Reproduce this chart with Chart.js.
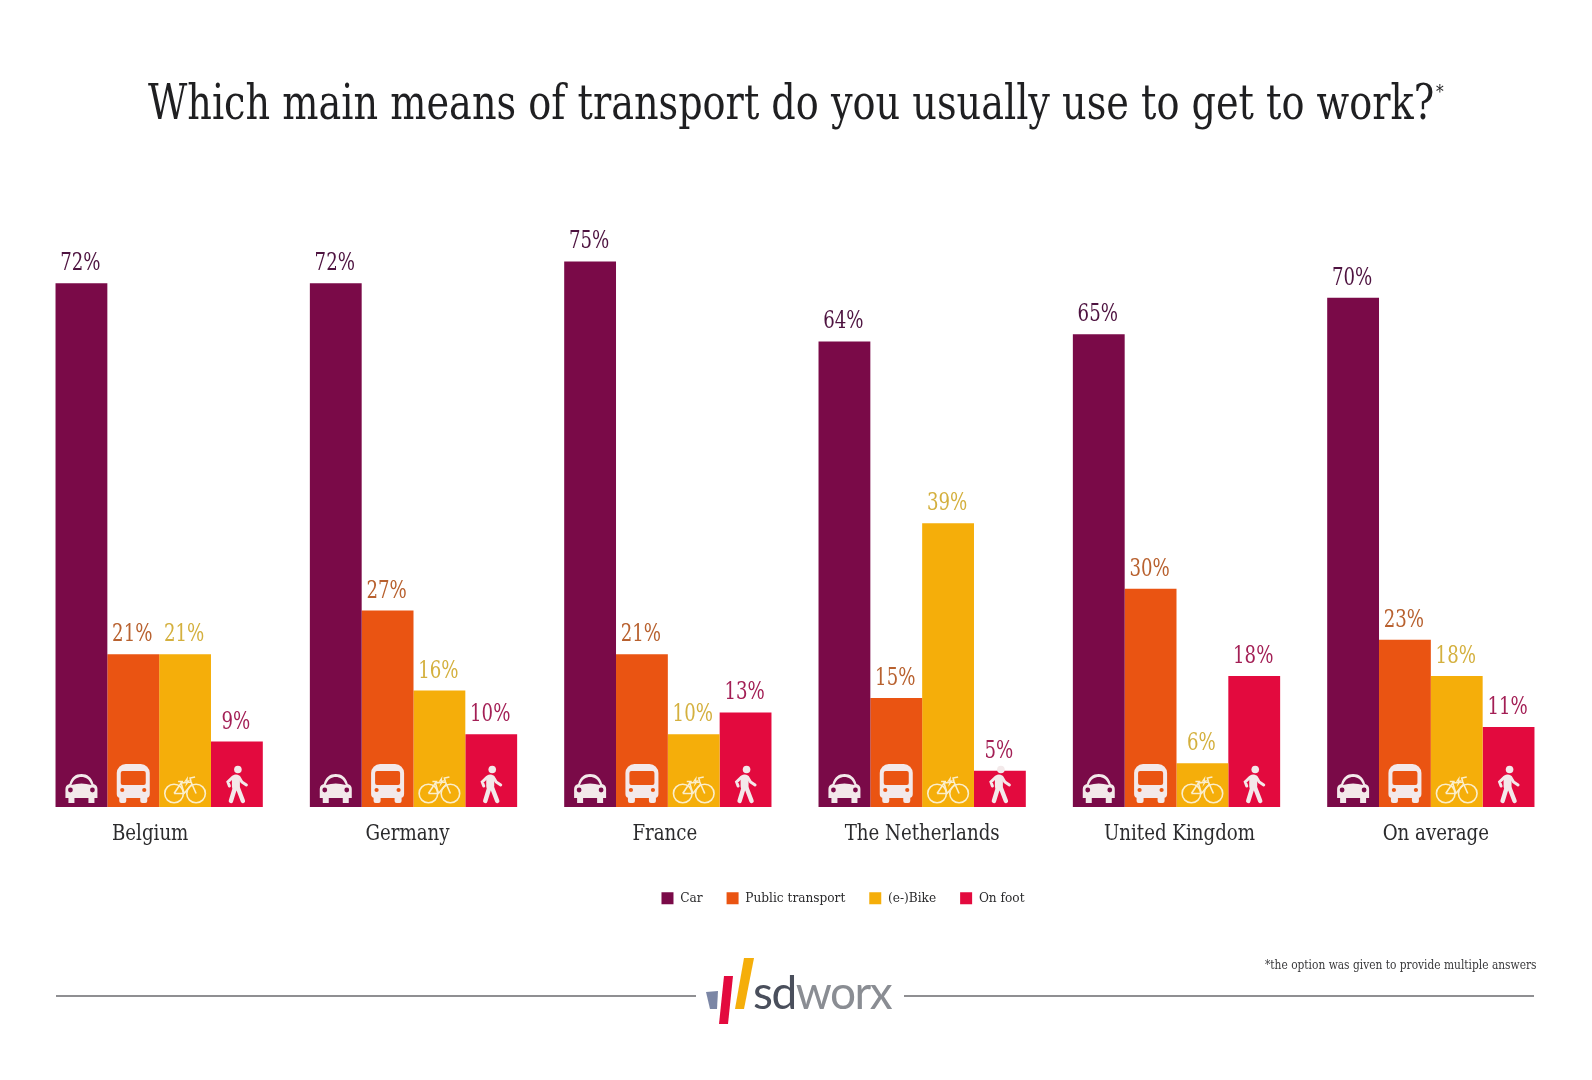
<!DOCTYPE html>
<html>
<head>
<meta charset="utf-8">
<style>
  html, body { margin: 0; background: #fff; }
  #wrap { position: relative; width: 1592px; height: 1080px; overflow: hidden; }
  canvas { position: absolute; left: 0; top: 0; }
  .rule { position: absolute; height: 2px; background: #8f8f92; top: 995px; }
  #note { position: absolute; left: 1265px; top: 957px; font: 13px "DejaVu Serif Condensed", serif; color: #3a3a3c; white-space: nowrap; transform: scaleX(0.91); transform-origin: left top; }
  #logo { position: absolute; left: 700px; top: 950px; }
</style>
<script src="https://cdn.jsdelivr.net/npm/chart.js@4/dist/chart.umd.min.js"></script>
</head>
<body>
<div id="wrap">
  <canvas id="chart" width="1592" height="1080"></canvas>
  <div class="rule" style="left:56px;width:640px"></div>
  <div class="rule" style="left:904px;width:630px"></div>
  <div id="note">*the option was given to provide multiple answers</div>
  <svg id="logo" width="204" height="80" viewBox="0 0 204 80">
    <polygon points="6,42 18,41 17,59 10,59" fill="#7b86a5"/>
    <polygon points="24,26 33,26 28,74 19,74" fill="#e30a3e"/>
    <polygon points="44,8 54,8 44,59 35,59" fill="#f5ae0a"/>
    <text x="53" y="59" font-family="Lato, sans-serif" font-size="46" fill="#4a4f5c" letter-spacing="-1.5">sd<tspan fill="#8a8d93">worx</tspan></text>
  </svg>
</div>
<script>
// Chart data
const countries = ['Belgium', 'Germany', 'France', 'The Netherlands', 'United Kingdom', 'On average'];
const car = [72, 72, 75, 64, 65, 70];
const publicTransport = [21, 27, 21, 15, 30, 23];
const bike = [21, 16, 10, 39, 6, 18];
const onFoot = [9, 10, 13, 5, 18, 11];

const FONT = '"DejaVu Serif Condensed", serif';
const labelColors = ['#4e1340', '#b8612f', '#d4b03e', '#a31f55'];
// country names sit a bit off the group centres in the original
const countryShift = [-9, -6, -3, 0, 3, 5];

// DejaVu is wider than the original slab face, so squeeze it horizontally
function squeezedText(c, text, x, y, size, squeeze, color, align) {
  c.save();
  c.translate(x, y);
  c.scale(squeeze, 1);
  c.font = size + 'px ' + FONT;
  c.fillStyle = color;
  c.textAlign = align || 'center';
  c.textBaseline = 'alphabetic';
  c.fillText(text, 0, 0);
  c.restore();
}

// icons: origin is the middle of the bar at its bottom edge
function drawCar(c, fill) {
  c.beginPath();
  c.moveTo(-16, -10); c.lineTo(-16, -18); c.quadraticCurveTo(-16, -22, -12, -23);
  c.bezierCurveTo(-10, -30, -6, -33, 0, -33); c.bezierCurveTo(6, -33, 10, -30, 12, -23);
  c.quadraticCurveTo(16, -22, 16, -18); c.lineTo(16, -9); c.lineTo(13, -9); c.lineTo(13, -4); c.lineTo(7, -4); c.lineTo(7, -9);
  c.lineTo(-7, -9); c.lineTo(-7, -4); c.lineTo(-13, -4); c.lineTo(-13, -9); c.lineTo(-16, -9);
  c.closePath(); c.fill();
  c.fillStyle = fill;
  c.beginPath();
  c.moveTo(-10, -22); c.bezierCurveTo(-8, -28, -4, -30, 0, -30); c.bezierCurveTo(4, -30, 8, -28, 10, -22);
  c.quadraticCurveTo(0, -25, -10, -22); c.fill();
  c.beginPath(); c.arc(-11, -17, 2.4, 0, Math.PI * 2); c.arc(11, -17, 2.4, 0, Math.PI * 2); c.fill();
}
function drawBus(c, fill) {
  c.beginPath();
  c.roundRect(-16.5, -43, 33, 34, [9, 9, 4, 4]); c.fill();
  c.beginPath(); c.roundRect(-14, -11, 7, 7, 2); c.roundRect(7, -11, 7, 7, 2); c.fill();
  c.fillStyle = fill;
  c.beginPath(); c.roundRect(-12.5, -36, 25, 14, 2); c.fill();
  c.beginPath(); c.arc(-11, -17, 2.1, 0, Math.PI * 2); c.arc(11, -17, 2.1, 0, Math.PI * 2); c.fill();
}
function drawBike(c) {
  c.lineWidth = 1.6;
  c.beginPath(); c.arc(-11, -13.5, 9.3, 0, Math.PI * 2); c.stroke();
  c.beginPath(); c.arc(11, -13.5, 9.3, 0, Math.PI * 2); c.stroke();
  c.beginPath();
  c.moveTo(-11, -13.5); c.lineTo(-4, -24); c.lineTo(6, -25); c.lineTo(11, -13.5);
  c.moveTo(-11, -13.5); c.lineTo(-1, -13.5); c.lineTo(7, -23);
  c.moveTo(-4, -24); c.lineTo(-1, -13.5);
  c.moveTo(6, -25); c.lineTo(5, -29); c.lineTo(10, -30);
  c.moveTo(-7, -25.5); c.lineTo(-2, -25.5);
  c.stroke();
  c.beginPath();
  c.moveTo(3, -31); c.lineTo(-1, -25); c.lineTo(1.5, -25.5); c.lineTo(0, -20);
  c.lineTo(5, -27); c.lineTo(2.5, -26.5); c.closePath(); c.fill();
}
function drawWalker(c) {
  c.beginPath(); c.arc(1, -37.5, 3.8, 0, Math.PI * 2); c.fill();
  c.lineCap = 'round';
  c.lineWidth = 8;
  c.beginPath(); c.moveTo(-1, -28.5); c.lineTo(-1, -21); c.stroke();
  c.lineWidth = 4.4;
  c.beginPath(); c.moveTo(-2, -19); c.lineTo(-6, -6); c.moveTo(1, -19); c.lineTo(6, -6); c.stroke();
  c.lineWidth = 3;
  c.beginPath(); c.moveTo(-4, -30); c.lineTo(-9, -25); c.lineTo(-7.5, -21); c.moveTo(2, -30); c.lineTo(5, -25); c.lineTo(9.5, -22); c.stroke();
}
const iconDrawers = [drawCar, drawBus, drawBike, drawWalker];

const barExtras = {
  id: 'barExtras',
  afterLayout(chart) {
    // legend is not centred on the page in the original
    chart.legend.left += 48;
    chart.legend.right += 48;
  },
  afterDatasetsDraw(chart) {
    const c = chart.ctx;
    const baseY = chart.scales.y.getPixelForValue(0);
    chart.data.datasets.forEach((ds, i) => {
      chart.getDatasetMeta(i).data.forEach((bar, j) => {
        squeezedText(c, ds.data[j] + '%', bar.x - 1, bar.y - 13, 24, 0.84, labelColors[i]);

        c.save();
        c.translate(bar.x, baseY);
        c.fillStyle = c.strokeStyle = i === 2 ? '#fbeecb' : '#f3e9ea';
        iconDrawers[i](c, ds.backgroundColor);
        c.restore();
      });
    });
    countries.forEach((name, k) => {
      squeezedText(c, name, chart.scales.x.getPixelForTick(k) + countryShift[k], baseY + 33, 23, 0.88, '#2b2b2d');
    });
    squeezedText(c, 'Which main means of transport do you usually use to get to work?', 148, 119, 48, 0.885, '#1f1f21', 'left');
    squeezedText(c, '*', 1436, 98, 19, 0.9, '#1f1f21', 'left');
  }
};

new Chart(document.getElementById('chart'), {
  type: 'bar',
  plugins: [barExtras],
  data: {
    labels: countries,
    datasets: [
      { label: 'Car', data: car, backgroundColor: '#7a0a48' },
      { label: 'Public transport', data: publicTransport, backgroundColor: '#ea5412' },
      { label: '(e-)Bike', data: bike, backgroundColor: '#f5ae0a' },
      { label: 'On foot', data: onFoot, backgroundColor: '#e30a3e' }
    ]
  },
  options: {
    responsive: false,
    animation: false,
    categoryPercentage: 0.815,
    barPercentage: 1,
    layout: { padding: { left: 32, right: 34, top: 225, bottom: 165 } },
    scales: {
      x: {
        display: true,
        grid: { display: false },
        border: { display: false },
        ticks: { display: false },
        afterFit(axis) { axis.height = 60.5; }
      },
      y: { display: false, min: 0, max: 80 }
    },
    plugins: {
      legend: {
        position: 'bottom',
        labels: {
          boxWidth: 12, boxHeight: 12, padding: 24, color: '#2b2b2d',
          font: { family: FONT, size: 13.5 }
        }
      },
      tooltip: { enabled: false }
    }
  }
});
</script>
</body>
</html>
